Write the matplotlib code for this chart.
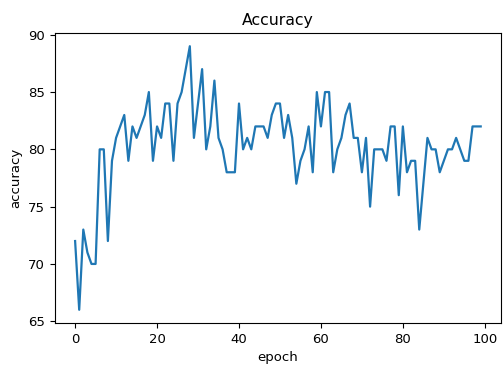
import matplotlib
matplotlib.use("Agg")
import matplotlib.pyplot as plt

# accuracy per epoch
accuracy = [
    72, 66, 73, 71, 70, 70, 80, 80, 72, 79,
    81, 82, 83, 79, 82, 81, 82, 83, 85, 79,
    82, 81, 84, 84, 79, 84, 85, 87, 89, 81,
    84, 87, 80, 82, 86, 81, 80, 78, 78, 78,
    84, 80, 81, 80, 82, 82, 82, 81, 83, 84,
    84, 81, 83, 81, 77, 79, 80, 82, 78, 85,
    82, 85, 85, 78, 80, 81, 83, 84, 81, 81,
    78, 81, 75, 80, 80, 80, 79, 82, 82, 76,
    82, 78, 79, 79, 73, 77, 81, 80, 80, 78,
    79, 80, 80, 81, 80, 79, 79, 82, 82, 82,
]
epochs = list(range(len(accuracy)))

fig = plt.figure(figsize=(5.03, 3.67), dpi=100)
ax = fig.add_axes([0.109, 0.12, 0.887, 0.79])
ax.plot(epochs, accuracy, color='#1f77b4', linewidth=1.6)
ax.set_title('Accuracy', fontsize=11.3)
ax.set_xlabel('epoch', fontsize=9.5)
ax.set_ylabel('accuracy', fontsize=9.5)
ax.tick_params(labelsize=9.5)

fig.savefig('out.png', dpi=100)
